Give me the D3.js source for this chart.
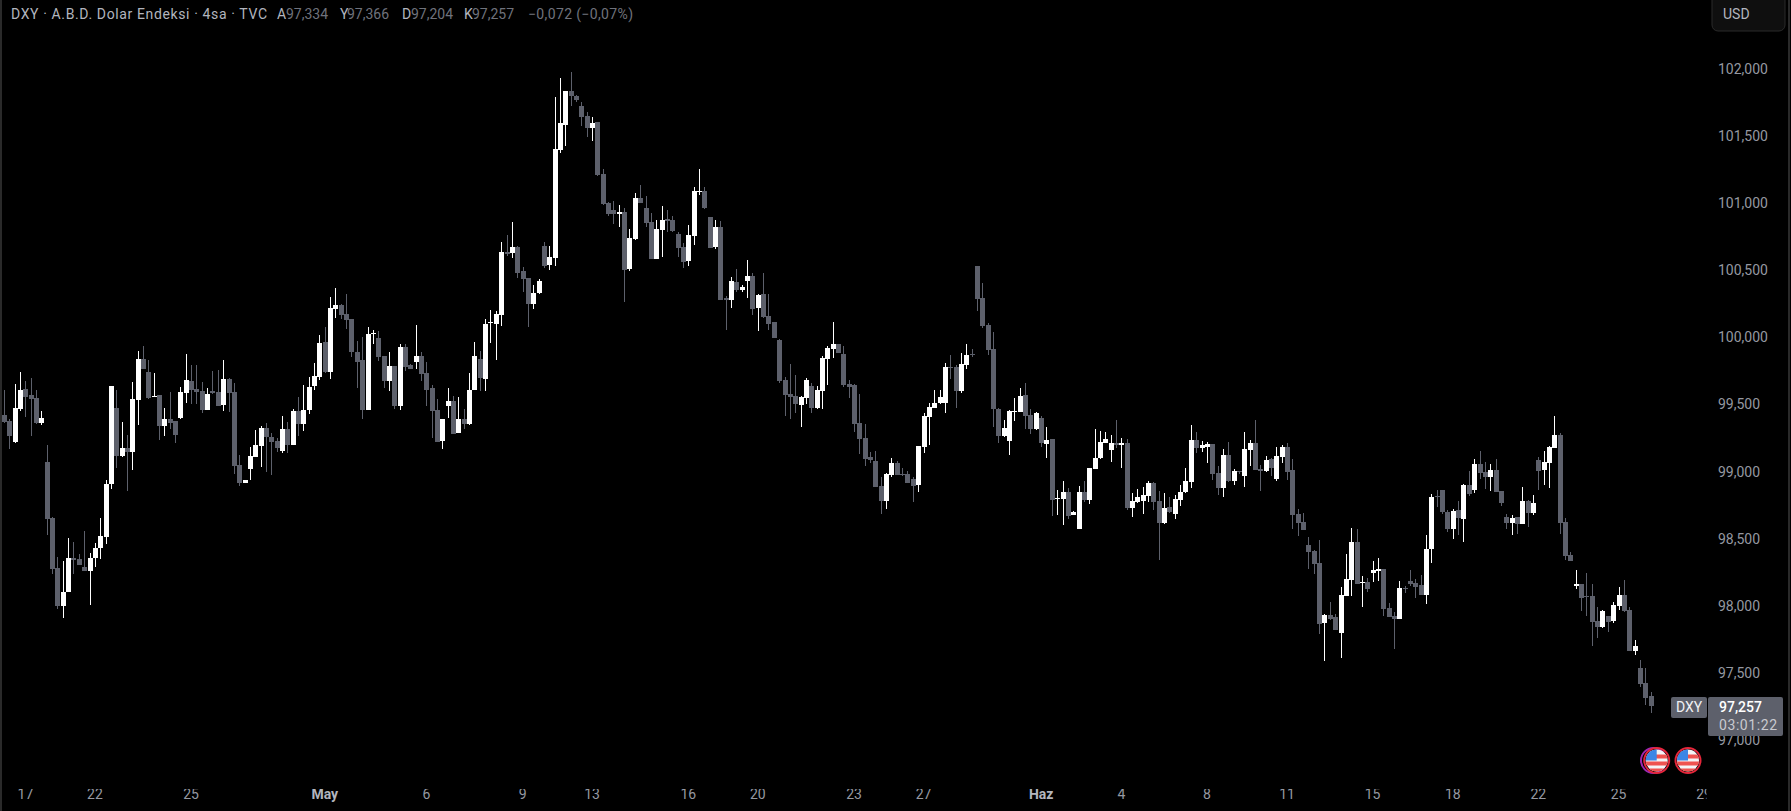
<!DOCTYPE html>
<html><head><meta charset="utf-8">
<script src="https://d3js.org/d3.v7.min.js"></script>
<style>
html,body{margin:0;padding:0;background:#000;overflow:hidden}
svg{display:block}
text{font-family:Roboto,"Noto Sans",sans-serif}
</style></head><body>
<svg id="c" width="1791" height="811"></svg>
<script>
const opens=[99.426,99.381,99.225,99.470,99.619,99.574,99.552,99.366,99.076,98.659,
98.286,98.003,98.108,98.361,98.353,98.294,98.264,98.361,98.435,98.517,
98.912,99.478,99.120,99.180,99.150,99.537,99.843,99.746,99.560,99.574,
99.344,99.396,99.381,99.403,99.589,99.679,99.619,99.604,99.463,99.604,
99.597,99.500,99.694,99.597,99.053,98.919,99.023,99.113,99.195,99.329,
99.262,99.232,99.158,99.321,99.202,99.455,99.359,99.463,99.641,99.708,
99.969,99.746,100.215,100.245,100.178,100.140,99.895,99.835,99.463,100.029,
99.999,99.865,99.679,99.790,99.493,99.932,99.798,99.820,99.865,99.738,
99.627,99.463,99.232,99.493,99.530,99.291,99.396,99.358,99.612,99.842,
99.694,100.111,100.103,100.170,100.639,100.632,100.677,100.498,100.446,100.252,
100.334,100.684,100.543,100.595,101.399,101.585,101.838,101.801,101.726,101.652,
101.563,101.607,101.220,101.004,100.952,100.925,100.937,100.513,100.736,101.041,
100.967,100.863,100.587,100.803,100.885,100.878,100.773,100.677,100.572,100.759,
101.086,101.094,100.900,100.677,100.826,100.297,100.282,100.416,100.356,100.423,
100.461,100.222,100.327,100.163,100.118,99.984,99.686,99.582,99.567,99.500,
99.552,99.641,99.478,99.604,99.842,99.917,99.954,99.880,99.656,99.649,
99.366,99.254,99.113,99.083,98.897,98.785,98.979,99.068,98.984,98.986,
98.949,98.904,99.187,99.411,99.478,99.515,99.515,99.783,99.783,99.604,
99.798,99.880,100.535,100.297,100.096,99.917,99.470,99.269,99.232,99.448,
99.448,99.574,99.425,99.321,99.403,99.209,99.247,98.800,98.800,98.852,
98.681,98.577,98.852,98.793,99.023,99.105,99.217,99.165,99.217,99.202,
99.217,98.733,98.778,98.785,98.822,98.919,98.785,98.621,98.740,98.688,
98.792,98.852,98.926,99.239,99.180,99.187,99.209,98.993,98.882,99.127,
98.934,99.008,98.971,99.165,99.217,99.023,99.008,99.098,98.949,99.113,
99.187,99.016,98.688,98.629,98.457,98.413,98.323,97.877,97.936,97.921,
97.802,98.078,98.197,98.480,98.174,98.182,98.249,98.264,98.279,97.988,
97.929,97.906,98.137,98.189,98.174,98.159,98.085,98.428,98.822,98.867,
98.703,98.576,98.718,98.651,98.904,98.867,99.060,99.001,98.964,99.016,
98.859,98.666,98.621,98.666,98.614,98.785,98.696,99.090,99.016,99.068,
99.180,99.276,98.629,98.383,98.152,98.167,98.078,98.078,97.891,97.847,
97.929,97.891,98.003,98.085,97.973,97.668,97.541,97.430,97.334];
const closes=[99.376,99.269,99.478,99.612,99.560,99.545,99.366,99.403,98.651,98.279,
98.003,98.108,98.361,98.346,98.309,98.264,98.361,98.435,98.525,98.912,
99.641,99.120,99.180,99.150,99.545,99.843,99.768,99.552,99.567,99.344,
99.396,99.366,99.277,99.597,99.686,99.612,99.597,99.463,99.582,99.589,
99.493,99.694,99.589,99.046,98.919,98.942,99.120,99.202,99.329,99.262,
99.225,99.180,99.321,99.202,99.455,99.359,99.463,99.634,99.716,99.962,
99.746,100.222,100.245,100.170,100.133,99.895,99.820,99.463,100.029,100.036,
99.857,99.679,99.790,99.493,99.932,99.783,99.768,99.865,99.731,99.612,
99.455,99.224,99.396,99.530,99.284,99.396,99.358,99.612,99.865,99.701,
100.103,100.118,100.178,100.639,100.624,100.677,100.483,100.438,100.252,100.334,
100.423,100.535,100.602,101.406,101.600,101.838,101.801,101.771,101.645,101.563,
101.600,101.213,100.997,100.922,100.922,100.937,100.505,100.744,101.041,101.004,
100.855,100.587,100.811,100.878,100.870,100.796,100.669,100.565,100.766,101.094,
101.094,100.967,100.669,100.826,100.282,100.282,100.423,100.356,100.379,100.461,
100.215,100.319,100.155,100.103,99.999,99.679,99.574,99.559,99.507,99.559,
99.686,99.478,99.612,99.850,99.924,99.954,99.887,99.649,99.634,99.358,
99.247,99.098,99.090,98.889,98.785,98.986,99.068,98.979,98.976,98.919,
98.897,99.195,99.418,99.485,99.515,99.559,99.783,99.775,99.604,99.805,
99.872,99.872,100.289,100.088,99.909,99.470,99.269,99.329,99.455,99.455,
99.567,99.418,99.321,99.440,99.217,99.239,98.793,98.807,98.852,98.673,
98.703,98.852,98.793,99.031,99.105,99.224,99.247,99.217,99.202,99.217,
98.733,98.785,98.815,98.830,98.919,98.778,98.621,98.733,98.703,98.800,
98.852,98.934,99.239,99.180,99.202,99.209,98.986,98.882,99.127,98.934,
99.008,99.001,99.172,99.217,99.016,99.008,99.090,99.031,99.120,99.187,
99.001,98.681,98.621,98.569,98.405,98.316,97.869,97.936,97.906,97.824,
98.085,98.204,98.480,98.167,98.182,98.130,98.271,98.279,97.981,97.921,
97.906,98.137,98.130,98.167,98.145,98.085,98.428,98.815,98.815,98.703,
98.576,98.711,98.658,98.904,98.837,99.060,98.993,98.964,99.016,98.852,
98.770,98.621,98.658,98.614,98.785,98.696,98.770,99.008,99.075,99.187,
99.276,98.621,98.375,98.338,98.167,98.063,98.070,97.884,97.847,97.966,
97.884,98.011,98.085,97.966,97.668,97.705,97.422,97.318,97.257];
const highs=[99.612,99.393,99.656,99.743,99.679,99.701,99.612,99.455,99.202,98.666,
98.368,98.338,98.510,98.480,98.391,98.562,98.398,98.472,98.659,98.942,
99.641,99.612,99.373,99.277,99.671,99.902,99.939,99.835,99.738,99.574,
99.478,99.597,99.381,99.634,99.880,99.798,99.798,99.671,99.627,99.753,
99.761,99.835,99.701,99.664,99.128,98.942,99.187,99.314,99.344,99.366,
99.292,99.254,99.418,99.373,99.470,99.560,99.649,99.708,99.813,100.021,
100.081,100.304,100.371,100.252,100.326,100.140,99.977,100.006,100.081,100.058,
100.051,99.865,99.895,99.790,99.954,99.954,99.805,100.096,99.895,99.820,
99.649,99.545,99.396,99.627,99.567,99.560,99.470,99.736,99.969,99.902,
100.140,100.207,100.200,100.714,100.766,100.863,100.684,100.528,100.446,100.394,
100.438,100.714,100.684,101.793,101.935,101.838,101.980,101.808,101.756,101.682,
101.645,101.607,101.257,101.012,101.019,100.989,100.967,100.811,101.079,101.138,
101.056,100.930,100.878,100.982,100.952,100.907,100.788,100.706,100.840,101.123,
101.257,101.123,100.900,100.878,100.870,100.312,100.453,100.513,100.394,100.580,
100.483,100.327,100.483,100.327,100.118,99.991,99.708,99.805,99.723,99.567,
99.701,99.664,99.641,99.865,99.939,100.118,99.954,99.939,99.686,99.656,
99.582,99.358,99.150,99.157,98.964,98.994,99.105,99.083,99.031,99.008,
98.964,99.195,99.440,99.515,99.612,99.612,99.813,99.872,99.798,99.887,
99.954,99.917,100.535,100.408,100.110,100.043,99.478,99.388,99.463,99.552,
99.626,99.664,99.470,99.448,99.418,99.336,99.247,98.867,98.934,98.882,
98.711,98.897,98.934,99.031,99.321,99.306,99.299,99.276,99.388,99.254,
99.247,98.845,98.874,98.889,98.934,98.926,98.859,98.845,98.815,98.830,
98.904,99.031,99.351,99.299,99.232,99.224,99.209,99.046,99.172,99.224,
99.023,99.008,99.299,99.239,99.388,99.053,99.120,99.105,99.187,99.202,
99.217,99.098,98.725,98.696,98.517,98.420,98.495,97.944,98.033,97.944,
98.145,98.390,98.584,98.576,98.227,98.212,98.338,98.361,98.279,98.025,
97.958,98.189,98.152,98.271,98.204,98.234,98.532,98.837,98.867,98.867,
98.718,98.725,98.785,98.912,99.008,99.098,99.157,99.075,99.060,99.098,
98.859,98.688,98.681,98.666,98.889,98.792,98.830,99.113,99.157,99.194,
99.418,99.291,98.658,98.405,98.271,98.167,98.249,98.167,97.996,97.973,
97.929,98.033,98.145,98.197,97.996,97.750,97.601,97.541,97.366];
const lows=[99.368,99.175,99.217,99.458,99.411,99.269,99.359,99.351,98.532,98.242,
97.981,97.914,98.108,98.242,98.309,98.264,98.011,98.294,98.353,98.465,
98.875,99.031,99.113,98.860,99.016,99.351,99.768,99.545,99.560,99.239,
99.269,99.321,99.217,99.396,99.515,99.507,99.507,99.440,99.463,99.582,
99.493,99.455,99.448,98.986,98.897,98.919,98.942,99.113,99.038,99.001,
98.979,99.150,99.143,99.143,99.202,99.269,99.306,99.433,99.612,99.686,
99.738,99.694,100.148,100.140,100.066,99.857,99.627,99.396,99.463,99.954,
99.828,99.627,99.604,99.470,99.463,99.753,99.768,99.768,99.679,99.493,
99.254,99.224,99.172,99.403,99.284,99.291,99.321,99.351,99.612,99.604,
99.604,99.962,99.835,100.088,100.609,100.595,100.446,100.342,100.081,100.215,
100.327,100.520,100.505,100.535,101.377,101.429,101.726,101.756,101.578,101.496,
101.466,101.205,100.989,100.907,100.848,100.826,100.267,100.498,100.729,101.004,
100.826,100.587,100.587,100.602,100.788,100.788,100.602,100.520,100.535,100.691,
101.064,100.960,100.669,100.662,100.282,100.059,100.222,100.342,100.342,100.297,
100.170,100.051,100.148,100.059,99.999,99.664,99.418,99.396,99.440,99.336,
99.507,99.440,99.470,99.470,99.649,99.850,99.887,99.634,99.552,99.299,
99.135,99.046,99.068,98.889,98.688,98.726,98.964,98.979,98.971,98.919,
98.778,98.852,99.142,99.202,99.478,99.507,99.440,99.693,99.478,99.589,
99.768,99.857,100.200,100.073,99.872,99.336,99.217,99.262,99.128,99.381,
99.448,99.321,99.284,99.314,99.187,99.105,98.673,98.681,98.606,98.651,
98.681,98.577,98.778,98.763,99.023,99.098,99.217,99.075,99.180,99.031,
98.718,98.666,98.770,98.688,98.778,98.718,98.346,98.614,98.696,98.651,
98.748,98.845,98.882,99.142,99.150,99.068,98.941,98.830,98.815,98.926,
98.904,98.986,98.889,99.046,99.016,98.859,99.001,98.971,98.934,99.068,
98.941,98.576,98.524,98.569,98.279,98.241,97.795,97.594,97.899,97.824,
97.616,98.078,98.078,98.167,97.996,98.107,98.182,98.189,97.929,97.921,
97.683,97.906,98.100,98.152,98.063,98.085,98.018,98.323,98.740,98.688,
98.554,98.502,98.532,98.480,98.822,98.845,98.949,98.874,98.859,98.852,
98.748,98.576,98.532,98.539,98.614,98.591,98.681,98.867,98.904,98.882,
99.180,98.539,98.346,98.338,98.130,97.966,97.929,97.705,97.765,97.839,
97.810,97.877,97.973,97.958,97.668,97.638,97.400,97.266,97.204];
const dateLabels=["17","22","25","May","6","9","13","16","20","23","27","Haz","4","8","11","15","18","22","25","29"];
const dateBars=[4,17,35,60,79,97,110,128,141,159,172,194,209,225,240,256,271,287,302,318];
const boldDates=["May","Haz"];
const priceTicks=[97,97.5,98,98.5,99,99.5,100,100.5,101,101.5,102];
const legendName="DXY · A.B.D. Dolar Endeksi · 4sa · TVC";
const legendItems=[["A","97,334"],["Y","97,366"],["D","97,204"],["K","97,257"]];
const legendChange="−0,072 (−0,07%)";
const lastPrice=97.257, countdown="03:01:22", symbol="DXY", currency="USD";

const UP="#ffffff",DOWN="#5d606b",TXT="#b2b5be",DIM="#6f727c";
const svg=d3.select("#c");
const PLOT_W=1707;
const y=d3.scaleLinear().domain([97,102]).range([740.7,69.2]);
const x=d3.scaleLinear().domain([0,308]).range([4,1650.6]);
const fmt=v=>d3.format(".3f")(v).replace(".",",");

svg.append("rect").attr("width",1791).attr("height",811).attr("fill","#000");
svg.append("rect").attr("x",0).attr("y",0).attr("width",2).attr("height",811).attr("fill","#2a2a2a");
svg.append("rect").attr("x",1788).attr("y",0).attr("width",2).attr("height",811).attr("fill","#2a2a2a");
svg.append("defs").append("clipPath").attr("id","plot").append("rect").attr("x",0).attr("y",0).attr("width",PLOT_W).attr("height",811);

const bars=d3.range(opens.length);
const g=svg.append("g").attr("shape-rendering","crispEdges");
const col=i=>closes[i]>=opens[i]?UP:DOWN;
g.selectAll("rect.w").data(bars).join("rect").attr("class","w")
 .attr("x",i=>Math.round(x(i))).attr("width",1)
 .attr("y",i=>Math.round(y(highs[i])))
 .attr("height",i=>Math.max(1,Math.round(y(lows[i]))-Math.round(y(highs[i]))))
 .attr("fill",col);
g.selectAll("rect.b").data(bars).join("rect").attr("class","b")
 .attr("x",i=>Math.round(x(i))-2).attr("width",5)
 .attr("y",i=>Math.round(y(Math.max(opens[i],closes[i]))))
 .attr("height",i=>Math.max(1,Math.round(y(Math.min(opens[i],closes[i])))-Math.round(y(Math.max(opens[i],closes[i])))))
 .attr("fill",col);

// price axis
const yAxis=svg.append("g").attr("transform","translate(1718,-0.5)")
 .call(d3.axisRight(y).tickValues(priceTicks).tickSize(0).tickPadding(0).tickFormat(fmt));
yAxis.select(".domain").remove();
yAxis.selectAll("text").attr("fill","#9598a1").attr("font-size",14).style("font-family","Roboto");

// date axis
const xAxis=svg.append("g").attr("transform","translate(-0.5,789)").attr("clip-path","url(#plot)")
 .call(d3.axisBottom(x).tickValues(dateBars).tickSize(0).tickPadding(0).tickFormat((d,i)=>dateLabels[i]));
xAxis.select(".domain").remove();
xAxis.selectAll("text").attr("fill",(d,i)=>boldDates.includes(dateLabels[i])?"#b2b5be":"#9598a1")
 .attr("font-weight",(d,i)=>boldDates.includes(dateLabels[i])?700:400)
 .attr("font-size",14);

// legend
const lg=svg.append("g").attr("font-size",14);
lg.append("text").attr("x",11).attr("y",19).attr("fill",TXT).attr("textLength",256).attr("lengthAdjust","spacing").text(legendName);
const lx=[277,340,402,464], vx=[286,347,411,472];
legendItems.forEach((d,i)=>{
  lg.append("text").attr("x",lx[i]).attr("y",19).attr("fill",TXT).text(d[0]);
  lg.append("text").attr("x",vx[i]).attr("y",19).attr("fill",DIM).text(d[1]);
});
lg.append("text").attr("x",528).attr("y",19).attr("fill",DIM).attr("textLength",105).attr("lengthAdjust","spacing").text(legendChange);

// currency button
svg.append("rect").attr("x",1712).attr("y",-6).attr("width",73).attr("height",37).attr("rx",6)
 .attr("fill","#0f0f0f").attr("stroke","#2a2a2a");
svg.append("text").attr("x",1723).attr("y",19).attr("font-size",14).attr("fill",TXT).text(currency);

// price tag
svg.append("rect").attr("x",1671).attr("y",697).attr("width",36).attr("height",21).attr("rx",2).attr("fill",DOWN);
svg.append("text").attr("x",1689).attr("y",712).attr("text-anchor","middle").attr("font-size",14).attr("fill","#f0f0f3").text(symbol);
svg.append("rect").attr("x",1708).attr("y",697).attr("width",75).attr("height",39).attr("rx",2).attr("fill",DOWN);
svg.append("text").attr("x",1719).attr("y",712).attr("font-size",14).attr("font-weight",500).attr("fill","#fff").text(fmt(lastPrice));
svg.append("text").attr("x",1719).attr("y",730).attr("font-size",14).attr("textLength",58).attr("fill","#c9cad0").text(countdown);

// event flags
function flag(cx,cy,id){
  const f=svg.append("g").attr("transform",`translate(${cx},${cy})`);
  f.append("clipPath").attr("id",id).append("circle").attr("r",11);
  const c=f.append("g").attr("clip-path",`url(#${id})`);
  c.append("rect").attr("x",-12).attr("y",-12).attr("width",24).attr("height",24).attr("fill","#f4f4f6");
  c.append("rect").attr("x",-12).attr("y",-6).attr("width",24).attr("height",4).attr("fill","#ef5350");
  c.append("rect").attr("x",-12).attr("y",1).attr("width",24).attr("height",4).attr("fill","#ef5350");
  c.append("rect").attr("x",-12).attr("y",8).attr("width",24).attr("height",5).attr("fill","#ef5350");
  c.append("rect").attr("x",-12).attr("y",-12).attr("width",12).attr("height",12).attr("fill","#3d86e6");
  f.append("circle").attr("r",12.5).attr("fill","none").attr("stroke","#e5263a").attr("stroke-width",2);
}
svg.append("circle").attr("cx",1653.5).attr("cy",760.5).attr("r",12.5).attr("fill","#000").attr("stroke","#9c27b0").attr("stroke-width",2);
flag(1656.7,760.5,"fa");
flag(1688,760.5,"fb");
</script></body></html>
